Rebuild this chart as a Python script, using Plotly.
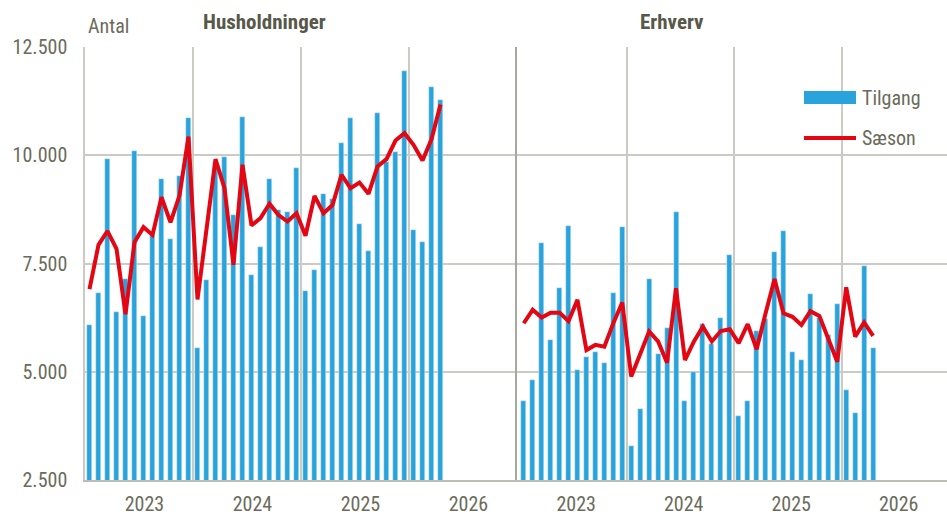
import plotly.graph_objects as go

# ---------------- data ----------------
months = list(range(40))  # Jan 2023 .. Apr 2026
year_labels = ["2023", "2024", "2025", "2026"]
year_label_pos = [5.5, 17.5, 29.5, 41.5]
year_bounds = [11.5, 23.5, 35.5]
y_ticks = [2500, 5000, 7500, 10000, 12500]

hus_tilgang = [6080, 6810, 9910, 6370, 7140, 10100, 6280, 8160, 9450, 8070, 9530, 10850,
               5540, 7110, 9820, 9960, 8620, 10890, 7240, 7870, 9450, 8740, 8680, 9710,
               6860, 7340, 9110, 9000, 10280, 10860, 8410, 7780, 10980, 9850, 10080, 11950,
               8280, 8000, 11570, 11280]
hus_saeson = [6910, 7930, 8250, 7840, 6330, 7990, 8340, 8160, 9030, 8450, 9070, 10430,
              6670, 8310, 9910, 9240, 7470, 9780, 8380, 8550, 8880, 8620, 8470, 8660,
              8140, 9060, 8660, 8850, 9550, 9240, 9370, 9110, 9740, 9910, 10340, 10510,
              10240, 9880, 10370, 11170]
erh_tilgang = [4330, 4810, 7970, 5740, 6940, 8360, 5050, 5330, 5460, 5200, 6810, 8340,
               3290, 4140, 7140, 5400, 6000, 8680, 4330, 5000, 6100, 5630, 6240, 7690,
               3980, 4320, 5930, 6220, 7770, 8250, 5460, 5280, 6790, 6250, 5840, 6570,
               4580, 4050, 7440, 5540]
erh_saeson = [6120, 6430, 6250, 6360, 6360, 6170, 6660, 5500, 5620, 5580, 6120, 6600,
              4890, 5430, 5930, 5700, 5210, 6930, 5270, 5700, 6040, 5700, 5940, 5980,
              5660, 6100, 5520, 6350, 7140, 6350, 6270, 6080, 6400, 6290, 5750, 5230,
              6950, 5810, 6140, 5830]

panel_titles = ["Husholdninger", "Erhverv"]
legend_names = ["Tilgang", "Sæson"]
y_unit = "Antal"

# ---------------- style ----------------
FONT = "Liberation Sans Narrow, Arial Narrow, Roboto Condensed, Roboto, sans-serif"
BAR = "#29a3dc"
RED = "#e30613"
GRID = "#cbcbc3"
TXT = "#6b6b5b"
TITLE = "#58584a"

W, H = 947, 515
ML, MR, MT, MB = 85, 0, 47, 35
PW = W - ML - MR
PH = H - MT - MB
split = 432 / PW
LABEL_SHIFT_L = 0.6
LABEL_SHIFT_R = 0.35


def px(x):
    return (x - ML) / PW


def py(y):
    return (H - MB - y) / PH


fig = go.Figure()

fig.add_trace(go.Bar(x=months, y=hus_tilgang, marker_color=BAR, width=0.56,
                     xaxis="x", yaxis="y", name=legend_names[0], showlegend=False))
fig.add_trace(go.Scatter(x=months, y=hus_saeson, mode="lines", line=dict(color=RED, width=4),
                         xaxis="x", yaxis="y", name=legend_names[1], showlegend=False))
fig.add_trace(go.Bar(x=months, y=erh_tilgang, marker_color=BAR, width=0.56,
                     xaxis="x2", yaxis="y2", name=legend_names[0], showlegend=False))
fig.add_trace(go.Scatter(x=months, y=erh_saeson, mode="lines", line=dict(color=RED, width=4),
                         xaxis="x2", yaxis="y2", name=legend_names[1], showlegend=False))

tick_text_y = [f"{v:,}".replace(",", ".") for v in y_ticks]


def xaxis_cfg(shift):
    return dict(
        tickmode="array", tickvals=[p + shift for p in year_label_pos], ticktext=year_labels,
        showgrid=False, zeroline=False, ticks="", ticklabelstandoff=5,
        tickfont=dict(family=FONT, size=20, color=TXT),
        showline=True, linecolor="#bdbdb3", linewidth=2,
        minor=dict(tickmode="array", tickvals=year_bounds, showgrid=True,
                   gridcolor=GRID, gridwidth=1.5, ticks=""),
    )


fig.update_layout(
    width=W, height=H,
    margin=dict(l=ML, r=MR, t=MT, b=MB),
    paper_bgcolor="white", plot_bgcolor="white",
    bargap=0, showlegend=False,
    font=dict(family=FONT, size=20, color=TXT),
    xaxis=dict(domain=[0, split], range=[-0.5, 47.5], anchor="y", **xaxis_cfg(LABEL_SHIFT_L)),
    xaxis2=dict(domain=[split, 1], range=[-0.75, 47.25], anchor="y2", **xaxis_cfg(LABEL_SHIFT_R)),
    yaxis=dict(range=[2500, 12500], tickmode="array", tickvals=y_ticks, ticktext=tick_text_y,
               showgrid=True, gridcolor=GRID, gridwidth=2, zeroline=False, ticks="",
               ticklabelstandoff=12, tickfont=dict(family=FONT, size=20, color=TXT),
               showline=True, linecolor=GRID, linewidth=1.5, anchor="x"),
    yaxis2=dict(range=[2500, 12500], tickmode="array", tickvals=y_ticks, showticklabels=False,
                showgrid=True, gridcolor=GRID, gridwidth=2, zeroline=False, ticks="",
                showline=True, linecolor="#a9a99b", linewidth=2, anchor="x2"),
)

# panel titles and unit
fig.add_annotation(x=px(264), y=py(22), xref="paper", yref="paper", text=f"<b>{panel_titles[0]}</b>",
                   showarrow=False, font=dict(family=FONT, size=21, color=TITLE),
                   xanchor="center", yanchor="middle")
fig.add_annotation(x=px(672), y=py(22), xref="paper", yref="paper", text=f"<b>{panel_titles[1]}</b>",
                   showarrow=False, font=dict(family=FONT, size=21, color=TITLE),
                   xanchor="center", yanchor="middle")
fig.add_annotation(x=px(86), y=py(26), xref="paper", yref="paper", text=y_unit,
                   showarrow=False, font=dict(family=FONT, size=20, color=TXT),
                   xanchor="left", yanchor="middle")

# custom legend
fig.add_shape(type="rect", xref="paper", yref="paper",
              x0=px(804), x1=px(856), y0=py(104), y1=py(91),
              fillcolor=BAR, line=dict(width=0))
fig.add_shape(type="line", xref="paper", yref="paper",
              x0=px(804), x1=px(856), y0=py(138), y1=py(138),
              line=dict(color=RED, width=4))
fig.add_annotation(x=px(860), y=py(98), xref="paper", yref="paper", text=legend_names[0],
                   showarrow=False, font=dict(family=FONT, size=20, color=TXT),
                   xanchor="left", yanchor="middle")
fig.add_annotation(x=px(860), y=py(138), xref="paper", yref="paper", text=legend_names[1],
                   showarrow=False, font=dict(family=FONT, size=20, color=TXT),
                   xanchor="left", yanchor="middle")

fig.write_html("out.html", config={"displayModeBar": False},
               post_script="document.body.style.margin='0';document.body.style.padding='0';")
